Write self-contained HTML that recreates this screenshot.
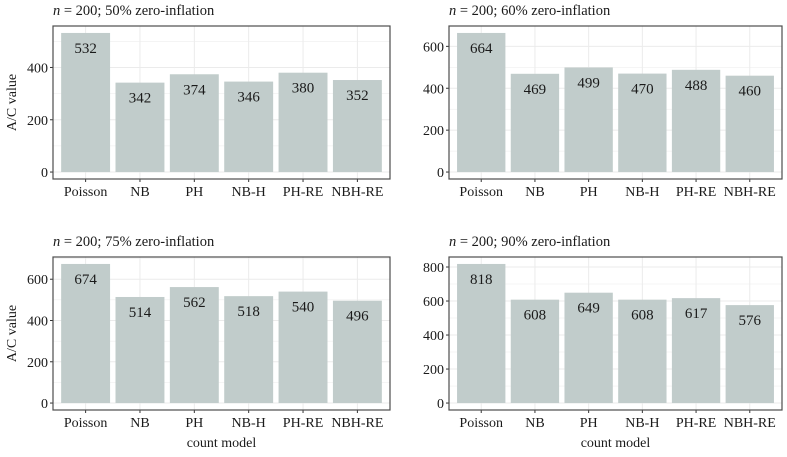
<!DOCTYPE html>
<html><head><meta charset="utf-8"><style>
body{margin:0;background:#fff;}
svg text{font-family:"Liberation Serif",serif;fill:#1a1a1a;}
</style></head><body>
<svg id="chart" width="787" height="452" viewBox="0 0 787 452" xmlns="http://www.w3.org/2000/svg"></svg>
<script>
var categories = ["Poisson","NB","PH","NB-H","PH-RE","NBH-RE"];
var titles = ["50% zero-inflation","60% zero-inflation","75% zero-inflation","90% zero-inflation"];
var values50 = [532,342,374,346,380,352];
var values60 = [664,469,499,470,488,460];
var values75 = [674,514,562,518,540,496];
var values90 = [818,608,649,608,617,576];
var ticks50 = [0,200,400];
var ticks60 = [0,200,400,600];
var ticks75 = [0,200,400,600];
var ticks90 = [0,200,400,600,800];

var svgEl = document.getElementById('chart');
var NS = 'http://www.w3.org/2000/svg';
function mk(tag, attrs, parent){
  var e = document.createElementNS(NS, tag);
  for (var k in attrs) e.setAttribute(k, String(attrs[k]));
  (parent || svgEl).appendChild(e);
  return e;
}

var panels = [
  {vals:values50,ticks:ticks50,title:titles[0],x0:53,x1:390,y0:26,y1:179,ylab:true,xlab:false},
  {vals:values60,ticks:ticks60,title:titles[1],x0:449,x1:782,y0:26,y1:179,ylab:false,xlab:false},
  {vals:values75,ticks:ticks75,title:titles[2],x0:53,x1:390,y0:257,y1:410,ylab:true,xlab:true},
  {vals:values90,ticks:ticks90,title:titles[3],x0:449,x1:782,y0:257,y1:410,ylab:false,xlab:true}
];

function drawPanel(p, pi){
  var g = mk('g', {});
  
  
  var max = Math.max.apply(null, p.vals);
  var dmin = -0.05 * max, dmax = 1.05 * max;
  function sy(v){ return p.y1 - (v - dmin) / (dmax - dmin) * (p.y1 - p.y0); }
  var n = categories.length;
  var unit = (p.x1 - p.x0) / (n - 1 + 1.2);
  function sx(i){ return p.x0 + unit * (0.6 + i); }

  var t = mk('text', {x:p.x0, y:p.y0 - 11, 'font-size':14.5}, g);
  
  
  var ts = mk('tspan', {'font-style':'italic'}, t);
  ts.textContent = 'n';
  var ts2 = mk('tspan', {}, t);
  ts2.textContent = ' = 200; ' + p.title;

  var step = p.ticks[1] - p.ticks[0];
  for (var k = -1; k <= 2 * p.ticks.length + 2; k++){
    var v = k * step / 2;
    var yy = sy(v);
    if (yy < p.y0 || yy > p.y1) continue;
    var major = (k % 2 === 0);
    var gl = mk('line', {x1:p.x0, x2:p.x1, y1:yy, y2:yy, stroke:'#ebebeb', 'stroke-width':major ? 1 : 0.5}, g);
    
    
  }
  for (var i = 0; i < n; i++){
    var vl = mk('line', {x1:sx(i), x2:sx(i), y1:p.y0, y2:p.y1, stroke:'#ebebeb', 'stroke-width':1}, g);
    
    
  }
  var bw = unit * 0.9;
  for (var j = 0; j < p.vals.length; j++){
    var val = p.vals[j];
    var r = mk('rect', {x:sx(j) - bw / 2, y:sy(val), width:bw, height:sy(0) - sy(val), fill:'#c1cccb'}, g);
    
    
    var lt = mk('text', {x:sx(j), y:sy(val) + 20, 'font-size':15, 'text-anchor':'middle'}, g);
    
    
    lt.textContent = String(val);
  }
  for (var c = 0; c < n; c++){
    var xt = mk('text', {x:sx(c), y:p.y1 + 17, 'font-size':14, 'text-anchor':'middle'}, g);
    
    
    xt.textContent = categories[c];
    mk('line', {x1:sx(c), x2:sx(c), y1:p.y1, y2:p.y1 + 3, stroke:'#333'}, g);
  }
  for (var q = 0; q < p.ticks.length; q++){
    var tv = p.ticks[q];
    var yt = mk('text', {x:p.x0 - 5, y:sy(tv) + 5, 'font-size':14, 'text-anchor':'end'}, g);
    
    
    yt.textContent = String(tv);
    mk('line', {x1:p.x0 - 3, x2:p.x0, y1:sy(tv), y2:sy(tv), stroke:'#333'}, g);
  }
  var b = mk('rect', {x:p.x0, y:p.y0, width:p.x1 - p.x0, height:p.y1 - p.y0, fill:'none', stroke:'#4d4d4d', 'stroke-width':1.2}, g);
  
  
  if (p.ylab){
    var cy = (p.y0 + p.y1) / 2;
    var yl = mk('text', {x:16, y:cy, 'font-size':14, 'text-anchor':'middle', transform:'rotate(-90 16 ' + cy + ')'}, g);
    
    
    yl.textContent = 'A/C value';
  }
  if (p.xlab){
    var xl = mk('text', {x:(p.x0 + p.x1) / 2, y:447, 'font-size':14, 'text-anchor':'middle'}, g);
    
    
    xl.textContent = 'count model';
  }
}
for (var pi = 0; pi < panels.length; pi++) drawPanel(panels[pi], pi);
</script>
</body></html>
